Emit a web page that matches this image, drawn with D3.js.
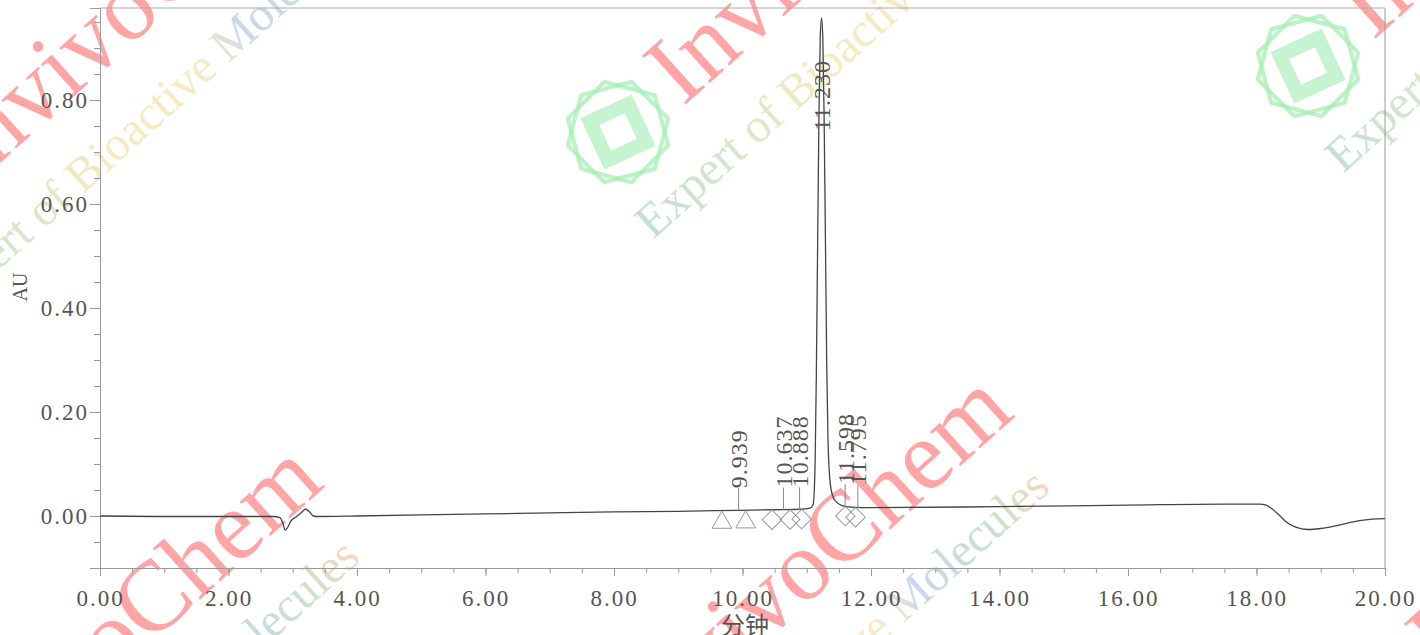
<!DOCTYPE html>
<html>
<head>
<meta charset="utf-8">
<script src="https://cdn.jsdelivr.net/npm/d3@7"></script>
<style>
  body { margin: 0; background: #fff; }
  svg { display: block; }
</style>
</head>
<body>
<svg width="1420" height="635"></svg>
<script>
// trace: retention time (min) and absorbance (AU)
var times = [0.00, 1.00, 2.00, 2.70, 2.80, 2.85, 2.88, 2.92, 2.97, 3.05, 3.12, 3.20, 3.26, 3.32, 3.40,
  4.00, 5.00, 6.00, 7.00, 8.00, 9.00, 9.94, 10.50, 10.90, 11.05, 11.10, 11.13, 11.15, 11.17, 11.19,
  11.21, 11.23, 11.25, 11.27, 11.29, 11.31, 11.33, 11.36, 11.40, 11.46, 11.55, 11.70, 12.00, 14.00,
  16.00, 17.50, 18.05, 18.15, 18.25, 18.35, 18.45, 18.60, 18.80, 19.00, 19.30, 19.60, 19.80, 20.00];
var absorb = [0.000, -0.001, -0.001, -0.001, -0.003, -0.015, -0.027, -0.022, -0.010, -0.002, 0.005, 0.013, 0.008, 0.000, -0.001,
  0.000, 0.002, 0.004, 0.006, 0.008, 0.009, 0.011, 0.012, 0.013, 0.015, 0.022, 0.100, 0.280, 0.530, 0.770,
  0.920, 0.958, 0.920, 0.770, 0.540, 0.300, 0.150, 0.070, 0.040, 0.027, 0.020, 0.017, 0.016, 0.018,
  0.021, 0.023, 0.023, 0.021, 0.013, 0.002, -0.010, -0.021, -0.026, -0.024, -0.017, -0.009, -0.006, -0.005];

// labelled peaks and integration marks
var peakTimes = [9.939, 10.637, 10.888, 11.230, 11.598, 11.795];
var triMarks = [9.68, 10.05];
var diaMarks = [10.46, 10.74, 10.92, 11.60, 11.76];

var yTicks = [0, 0.2, 0.4, 0.6, 0.8];
var xTicks = [0, 2, 4, 6, 8, 10, 12, 14, 16, 18, 20];

var svg = d3.select("svg");
var margin = { top: 8, right: 35, bottom: 67, left: 100 };
var width = 1420 - margin.left - margin.right,
  height = 635 - margin.top - margin.bottom;

////////////////////////////// watermark (drawn underneath) //////////////////////////////
var defs = svg.append("defs");
var grad = defs.append("linearGradient").attr("id", "wmgrad");
[[0, "#8fc7c0"], [0.2, "#b5d49a"], [0.4, "#ecdc8a"], [0.64, "#f1d88e"], [0.72, "#9ab8e8"], [0.88, "#9ccaa0"], [1, "#f4b88a"]]
  .forEach(function(s) { grad.append("stop").attr("offset", s[0]).attr("stop-color", s[1]); });

var tiles = [[-95, 215], [618, 132], [1308, 66], [-110, 845], [580, 775], [1380, 700]];
var wm = svg.append("g").attr("class", "watermark");
tiles.forEach(function(t) {
  var tg = wm.append("g").attr("transform", "translate(" + t[0] + "," + t[1] + ")");
  [15, 45].forEach(function(off) {
    var pts = d3.range(6).map(function(i) {
      var a = (off + i * 60) * Math.PI / 180;
      return [52 * Math.cos(a), 52 * Math.sin(a)];
    });
    tg.append("path")
      .attr("d", "M" + pts.join("L") + "Z")
      .attr("fill", "none")
      .attr("stroke", "#a6efb2")
      .attr("stroke-width", 4)
      .attr("opacity", 0.75);
  });
  tg.append("path")
    .attr("d", "M0,-40L40,0L0,40L-40,0Z M0,-20L-20,0L0,20L20,0Z")
    .attr("fill", "#b4f0c0")
    .attr("fill-rule", "evenodd")
    .attr("transform", "rotate(20)")
    .attr("opacity", 0.75);
  tg.append("text")
    .attr("transform", "translate(65,-25) rotate(-42)")
    .attr("font-family", "Liberation Serif")
    .attr("font-size", 100)
    .attr("fill", "#ff4d4d")
    .attr("opacity", 0.5)
    .text("InvivoChem");
  tg.append("text")
    .attr("transform", "translate(35,108) rotate(-42)")
    .attr("font-family", "Liberation Serif")
    .attr("font-size", 48)
    .attr("fill", "url(#wmgrad)")
    .attr("opacity", 0.55)
    .text("Expert of Bioactive Molecules");
});

//////////////////////////////////// chart ////////////////////////////////////
var g = svg.append("g")
  .attr("transform", "translate(" + margin.left + "," + margin.top + ")");

var x = d3.scaleLinear().domain([0, 20]).range([0, width]);
var y = d3.scaleLinear().domain([-0.1, 0.977]).range([height, 0]);

// frame top + right
g.append("line").attr("x1", 0).attr("x2", width).attr("y1", 0).attr("y2", 0)
  .attr("stroke", "#aaa");
g.append("line").attr("x1", width).attr("x2", width).attr("y1", 0).attr("y2", height)
  .attr("stroke", "#999");

// minor ticks
g.append("g").attr("class", "minor")
  .call(d3.axisLeft(y).tickValues(d3.range(-0.05, 0.96, 0.05)).tickSize(6).tickFormat(""));
g.append("g").attr("class", "minor")
  .attr("transform", "translate(0," + height + ")")
  .call(d3.axisBottom(x).tickValues(d3.range(0, 20.01, 0.5)).tickSize(5).tickFormat(""));

// major axes
g.append("g").attr("class", "axis axis--y")
  .call(d3.axisLeft(y).tickValues(yTicks).tickSize(10).tickPadding(1).tickFormat(d3.format(".2f")));
g.append("g").attr("class", "axis axis--x")
  .attr("transform", "translate(0," + height + ")")
  .call(d3.axisBottom(x).tickValues(xTicks).tickSize(8).tickPadding(14).tickFormat(d3.format(".2f")));

g.selectAll(".domain, .tick line").attr("stroke", "#999");
g.selectAll(".axis text")
  .attr("font-family", "Liberation Serif")
  .attr("font-size", 23)
  .attr("letter-spacing", 2)
  .attr("fill", "#555");

// axis titles
svg.append("text")
  .attr("transform", "translate(27,287) rotate(-90)")
  .attr("text-anchor", "middle")
  .attr("font-family", "Liberation Serif")
  .attr("font-size", 20)
  .attr("fill", "#555")
  .text("AU");
svg.append("text")
  .attr("x", 745).attr("y", 634)
  .attr("text-anchor", "middle")
  .attr("font-family", "Noto Sans CJK SC")
  .attr("font-size", 24)
  .attr("fill", "#555")
  .text("分钟");

// trace
var pts = times.map(function(t, i) { return [t, absorb[i]]; });
var line = d3.line()
  .x(function(d) { return x(d[0]); })
  .y(function(d) { return y(d[1]); })
  .curve(d3.curveMonotoneX);
g.append("path")
  .datum(pts)
  .attr("fill", "none")
  .attr("stroke", "#444")
  .attr("stroke-width", 1.3)
  .attr("d", line);

// signal height at a given time (for placing labels/marks)
var bis = d3.bisector(function(d) { return d[0]; }).left;
function sigAt(t) {
  var i = bis(pts, t);
  if (i <= 0) return pts[0][1];
  var a = pts[i - 1], b = pts[i];
  return a[1] + (b[1] - a[1]) * (t - a[0]) / (b[0] - a[0]);
}

// integration marks
g.selectAll(".tri")
  .data(triMarks)
  .enter().append("path")
  .attr("d", d3.symbol().type(d3.symbolTriangle).size(170))
  .attr("transform", function(d) { return "translate(" + x(d) + "," + (y(sigAt(d)) + 12) + ")"; })
  .attr("fill", "none")
  .attr("stroke", "#999");
g.selectAll(".dia")
  .data(diaMarks)
  .enter().append("path")
  .attr("d", d3.symbol().type(d3.symbolSquare).size(190))
  .attr("transform", function(d) { return "translate(" + x(d) + "," + (y(sigAt(d)) + 10) + ") rotate(45)"; })
  .attr("fill", "none")
  .attr("stroke", "#999");

// peak labels
peakTimes.forEach(function(rt) {
  var px = x(rt), py = y(sigAt(rt));
  var lab = g.append("text")
    .attr("font-family", "Liberation Serif")
    .attr("font-size", 24)
    .attr("letter-spacing", 1)
    .attr("fill", "#555")
    .attr("dy", "0.35em")
    .text(rt.toFixed(3));
  if (py - 22 - 75 < 10) {
    // tall peak: label hangs below the apex
    lab.attr("text-anchor", "end")
      .attr("transform", "translate(" + px + "," + (py + 42) + ") rotate(-90)");
  } else {
    lab.attr("text-anchor", "start")
      .attr("transform", "translate(" + px + "," + (py - 22) + ") rotate(-90)");
    g.append("line")
      .attr("x1", px).attr("x2", px)
      .attr("y1", py - 22).attr("y2", py + 1)
      .attr("stroke", "#888");
  }
});
</script>
</body>
</html>
